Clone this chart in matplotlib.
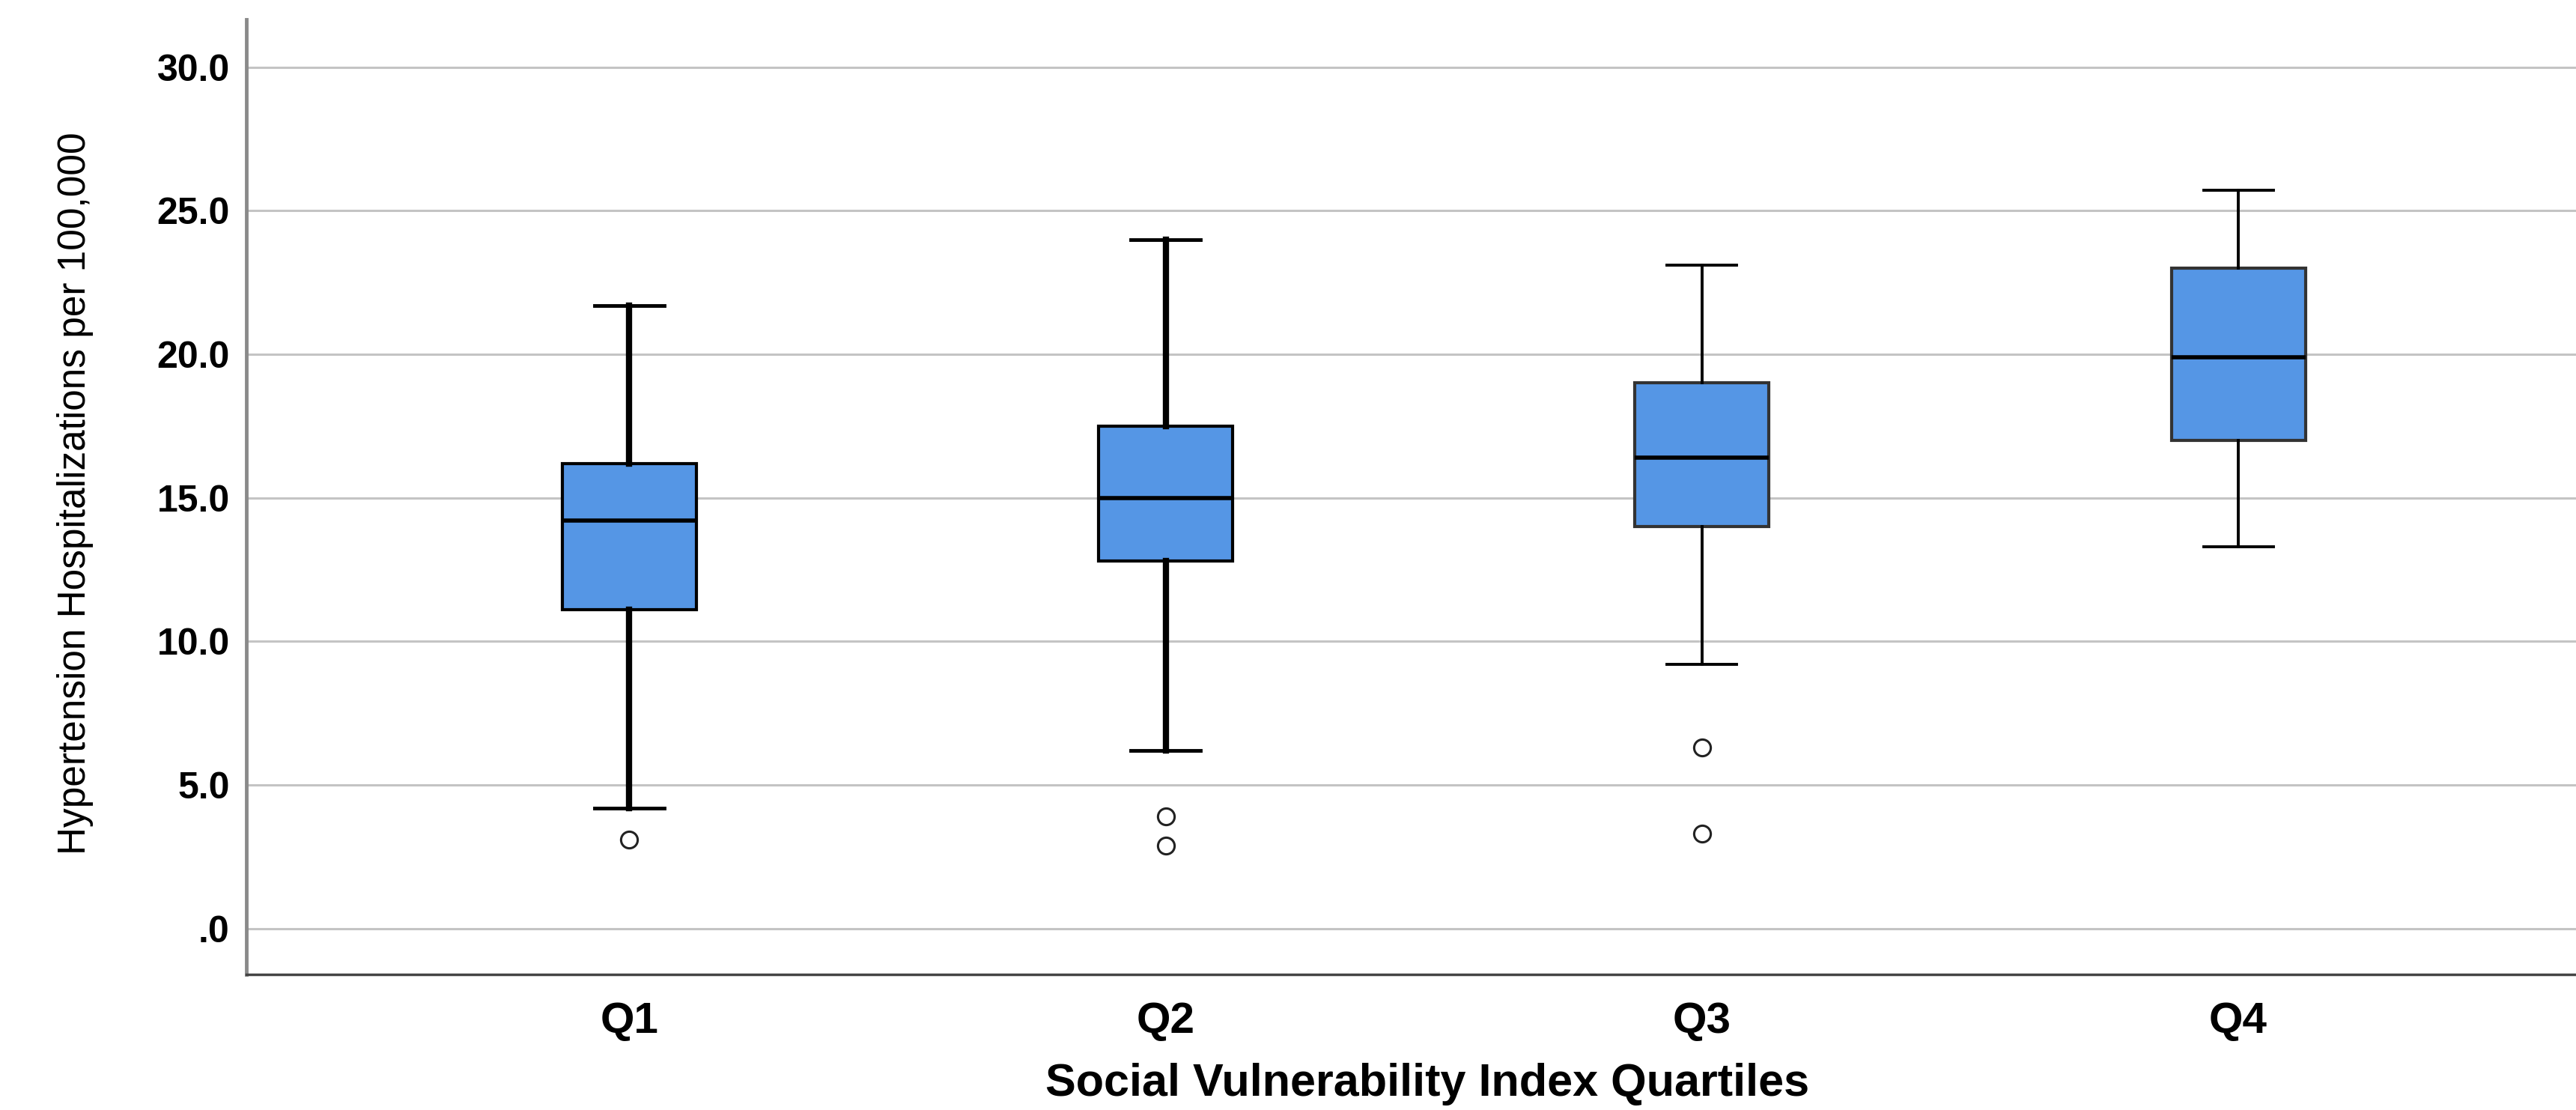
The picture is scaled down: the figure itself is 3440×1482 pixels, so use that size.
import matplotlib
matplotlib.use("Agg")
import matplotlib.pyplot as plt
from matplotlib.ticker import FuncFormatter

# valeurs
quartiles = ["Q1", "Q2", "Q3", "Q4"]
whisker_low = [4.2, 6.2, 9.2, 13.3]
box_low = [11.1, 12.8, 14.0, 17.0]
medians = [14.2, 15.0, 16.4, 19.9]
box_high = [16.2, 17.5, 19.0, 23.0]
whisker_high = [21.7, 24.0, 23.1, 25.7]
outliers = [[3.1], [3.9, 2.9], [6.3, 3.3], []]

y_ticks = [0, 5, 10, 15, 20, 25, 30]

box_color = "#5596e5"

fig = plt.figure(figsize=(34.41, 14.82), dpi=100)
ax = fig.add_axes([0.0956, 0.1221, 0.9044, 0.8604])

stats = []
for i, q in enumerate(quartiles):
    stats.append({
        "label": q,
        "whislo": whisker_low[i],
        "q1": box_low[i],
        "med": medians[i],
        "q3": box_high[i],
        "whishi": whisker_high[i],
        "fliers": outliers[i],
    })

parts = ax.bxp(stats, positions=range(1, 5), widths=0.25, capwidths=0.13,
               patch_artist=True, showfliers=True,
               boxprops=dict(facecolor=box_color, edgecolor="black", linewidth=3),
               medianprops=dict(color="black", linewidth=4),
               whiskerprops=dict(color="black", linewidth=2.8),
               capprops=dict(color="black", linewidth=2.8),
               flierprops=dict(marker="o", markersize=16, markerfacecolor="white",
                               markeredgecolor="#222222", markeredgewidth=2.2))

# Q1 et Q2 ont des moustaches plus epaisses
for i in (0, 1):
    for w in parts["whiskers"][2 * i:2 * i + 2]:
        w.set_linewidth(6)
    for c in parts["caps"][2 * i:2 * i + 2]:
        c.set_linewidth(3.5)
for b in parts["boxes"][2:]:
    b.set_edgecolor("#333333")

ax.set_xlim(0.286, 4.631)
ax.set_ylim(-1.6, 31.66)
ax.set_yticks(y_ticks)
ax.yaxis.set_major_formatter(FuncFormatter(lambda v, p: ".0" if v == 0 else f"{v:.1f}"))
ax.grid(axis="y", color="#c4c4c4", linewidth=2.2)
ax.set_axisbelow(True)

for s in ("top", "right"):
    ax.spines[s].set_visible(False)
ax.spines["left"].set_color("#8a8a8a")
ax.spines["left"].set_linewidth(3.5)
ax.spines["bottom"].set_color("#444444")
ax.spines["bottom"].set_linewidth(2.5)

ax.tick_params(axis="both", length=0)
ax.tick_params(axis="y", pad=16)
ax.tick_params(axis="x", pad=26)
for lab in ax.get_yticklabels():
    lab.set_fontfamily("Liberation Sans")
    lab.set_fontweight("bold")
    lab.set_fontsize(36)
for lab in ax.get_xticklabels():
    lab.set_fontfamily("Liberation Sans")
    lab.set_fontweight("bold")
    lab.set_fontsize(42)

fig.text(0.554, 0.023, "Social Vulnerability Index Quartiles", fontsize=44,
         fontweight="bold", family="Liberation Sans", ha="center", va="center")
ax.set_ylabel("Hypertension Hospitalizations per 100,000", fontsize=37,
              family="Liberation Sans")
ax.yaxis.set_label_coords(-0.0656, 0.504)

fig.savefig("out.png", dpi=100)
